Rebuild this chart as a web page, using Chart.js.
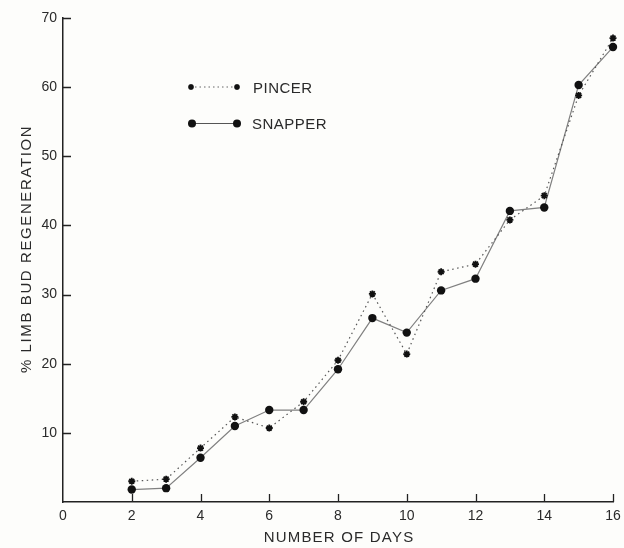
<html>

<head>
    <meta charset="utf-8" />
    <title>Limb bud regeneration</title>
    <script src="https://cdn.jsdelivr.net/npm/chart.js"></script>
    <style>
        body { margin: 0; background: #fdfdfb; }
    </style>
</head>

<body>
    <canvas id="grafico" width="624" height="548"></canvas>
    <script>
        // dados
        var dias = [2, 3, 4, 5, 6, 7, 8, 9, 10, 11, 12, 13, 14, 15, 16];
        var pincer = [3.0, 3.3, 7.8, 12.3, 10.7, 14.5, 20.5, 30.1, 21.4, 33.3, 34.4, 40.8, 44.3, 58.8, 67.1];
        var snapper = [1.8, 2.0, 6.4, 11.0, 13.3, 13.3, 19.2, 26.6, 24.5, 30.6, 32.3, 42.1, 42.6, 60.3, 65.8];
        var ticksX = [2, 4, 6, 8, 10, 12, 14, 16];
        var ticksY = [10, 20, 30, 40, 50, 60, 70];

        var fonte = '"Liberation Sans", Arial, sans-serif';

        function pontos(valores) {
            let lista = [];
            for (let i = 0; i < dias.length; i++) {
                lista.push({ x: dias[i], y: valores[i] });
            }
            return lista;
        }

        function estrela(ctx, x, y, r) {
            ctx.save();
            ctx.strokeStyle = '#111';
            ctx.lineWidth = 1.6;
            ctx.beginPath();
            for (let a = 0; a < 4; a++) {
                let ang = a * Math.PI / 4;
                ctx.moveTo(x - r * Math.cos(ang), y - r * Math.sin(ang));
                ctx.lineTo(x + r * Math.cos(ang), y + r * Math.sin(ang));
            }
            ctx.stroke();
            ctx.restore();
        }

        function bolinha(ctx, x, y, r) {
            ctx.save();
            ctx.fillStyle = '#111';
            ctx.beginPath();
            ctx.arc(x, y, r, 0, Math.PI * 2);
            ctx.fill();
            ctx.restore();
        }

        // marcas dos eixos (para dentro), títulos e legenda
        var extras = {
            id: 'extras',
            afterDraw: function (chart) {
                let ctx = chart.ctx;
                let sx = chart.scales.x, sy = chart.scales.y;
                let area = chart.chartArea;
                ctx.save();
                ctx.strokeStyle = '#222';
                ctx.lineWidth = 1.3;
                ctx.beginPath();
                for (let v of ticksY) {
                    let py = Math.round(sy.getPixelForValue(v)) + 0.5;
                    ctx.moveTo(area.left, py);
                    ctx.lineTo(area.left + 8, py);
                }
                for (let v of ticksX) {
                    let px = Math.round(sx.getPixelForValue(v)) + 0.5;
                    ctx.moveTo(px, area.bottom);
                    ctx.lineTo(px, area.bottom - 8);
                }
                ctx.stroke();

                ctx.fillStyle = '#2a2a2a';
                ctx.font = '15px ' + fonte;
                ctx.letterSpacing = '1.2px';
                ctx.textAlign = 'center';
                ctx.textBaseline = 'middle';
                ctx.fillText('NUMBER OF DAYS', 339, 538);

                ctx.save();
                ctx.translate(27, 249);
                ctx.rotate(-Math.PI / 2);
                ctx.letterSpacing = '1.6px';
                ctx.fillText('% LIMB BUD REGENERATION', 0, 0);
                ctx.restore();

                // legenda
                ctx.letterSpacing = '0.5px';
                ctx.textAlign = 'left';
                ctx.strokeStyle = '#666';
                ctx.lineWidth = 1;
                ctx.setLineDash([1.5, 3]);
                ctx.beginPath();
                ctx.moveTo(195, 87);
                ctx.lineTo(233, 87);
                ctx.stroke();
                ctx.setLineDash([]);
                estrela(ctx, 191, 87, 3);
                estrela(ctx, 237, 87, 3);
                ctx.fillText('PINCER', 253, 89);

                ctx.strokeStyle = '#555';
                ctx.beginPath();
                ctx.moveTo(192, 123.5);
                ctx.lineTo(237, 123.5);
                ctx.stroke();
                bolinha(ctx, 192, 123.5, 4);
                bolinha(ctx, 237, 123.5, 4);
                ctx.fillText('SNAPPER', 252, 124.5);
                ctx.restore();
            }
        };

        var grafico = new Chart(document.getElementById('grafico'), {
            type: 'line',
            data: {
                datasets: [{
                    label: 'PINCER',
                    data: pontos(pincer),
                    borderColor: '#555',
                    borderWidth: 1.2,
                    borderDash: [1.5, 3.5],
                    pointStyle: 'star',
                    pointRadius: 3.5,
                    pointBorderWidth: 1.8,
                    pointBorderColor: '#111',
                    pointBackgroundColor: '#111',
                    tension: 0,
                    clip: false
                }, {
                    label: 'SNAPPER',
                    data: pontos(snapper),
                    borderColor: '#808080',
                    borderWidth: 1.2,
                    pointStyle: 'circle',
                    pointRadius: 4.2,
                    pointBorderWidth: 0,
                    pointBackgroundColor: '#111',
                    tension: 0,
                    clip: false
                }]
            },
            options: {
                responsive: false,
                animation: false,
                devicePixelRatio: 1,
                layout: { padding: { left: 0, right: 11, top: 18, bottom: 0 } },
                plugins: { legend: { display: false }, tooltip: { enabled: false } },
                scales: {
                    x: {
                        type: 'linear',
                        min: 0,
                        max: 16,
                        afterFit: function (scale) {
                            scale.height = 46;
                            scale.paddingLeft = 0;
                            scale.paddingRight = 0;
                        },
                        grid: { display: false, drawTicks: false },
                        border: { display: true, color: '#222', width: 1.5 },
                        ticks: {
                            stepSize: 2,
                            padding: 6,
                            color: '#2a2a2a',
                            font: { family: fonte, size: 14 }
                        }
                    },
                    y: {
                        min: 0,
                        max: 70,
                        afterFit: function (scale) {
                            scale.width = 63;
                            scale.paddingTop = 0;
                            scale.paddingBottom = 0;
                        },
                        grid: { display: false, drawTicks: false },
                        border: { display: true, color: '#222', width: 1.5 },
                        ticks: {
                            stepSize: 10,
                            padding: 6,
                            color: '#2a2a2a',
                            font: { family: fonte, size: 14 },
                            callback: function (v) { return v == 0 ? '' : v; }
                        }
                    }
                }
            },
            plugins: [extras]
        });
    </script>
</body>

</html>
